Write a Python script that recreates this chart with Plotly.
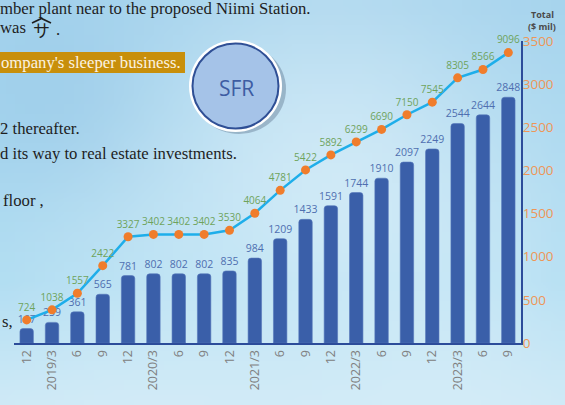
import base64, struct, zlib
import numpy as np
import plotly.graph_objects as go

# ---------------- data ----------------
tick_labels = ["12", "2019/3", "6", "9", "12", "2020/3", "6", "9", "12", "2021/3",
               "6", "9", "12", "2022/3", "6", "9", "12", "2023/3", "6", "9"]
bar_values = [167, 239, 361, 565, 781, 802, 802, 802, 835, 984,
              1209, 1433, 1591, 1744, 1910, 2097, 2249, 2544, 2644, 2848]
total_values = [724, 1038, 1557, 2422, 3327, 3402, 3402, 3402, 3530, 4064,
                4781, 5422, 5892, 6299, 6690, 7150, 7545, 8305, 8566, 9096]
axis_ticks = [0, 500, 1000, 1500, 2000, 2500, 3000, 3500]
positions = list(range(len(tick_labels)))

W, H = 565, 405
L, R, T, B = 14, 521, 41, 343
PW, PH = R - L, B - T


def px(x):
    return (x - L) / PW


def py(y):
    return (B - y) / PH


# ---------------- soft background (generated gradient image) ----------------
def make_bg():
    w, h = 57, 41
    yy, xx = np.mgrid[0:h, 0:w].astype(float)
    X = xx / (w - 1) * W
    Y = yy / (h - 1) * H
    top = np.array([164, 211, 237.0])
    mid = np.array([168, 218, 241.0])
    bot = np.array([202, 232, 246.0])
    t = Y / H
    col = np.where((t < 0.7)[..., None],
                   top + (mid - top) * (t / 0.7)[..., None],
                   mid + (bot - mid) * ((t - 0.7) / 0.3)[..., None])
    for cx, cy, r, a in [(330, 165, 130, 26), (470, 300, 110, 14), (120, 300, 120, 12)]:
        d = np.exp(-((X - cx) ** 2 + (Y - cy) ** 2) / (2 * r * r))
        col = col + (np.array([255, 255, 255.0]) - col) * (a / 100.0) * d[..., None] * 1.6
    d = np.exp(-((X - 60) ** 2 + (Y - 110) ** 2) / (2 * 70 ** 2))
    col = col - np.array([10, 8, 4.0]) * d[..., None]
    img = np.clip(col, 0, 255).astype(np.uint8)
    raw = b"".join(b"\x00" + img[i].tobytes() for i in range(h))

    def chunk(tag, data):
        c = struct.pack(">I", len(data)) + tag + data
        return c + struct.pack(">I", zlib.crc32(tag + data) & 0xFFFFFFFF)

    png = (b"\x89PNG\r\n\x1a\n" + chunk(b"IHDR", struct.pack(">IIBBBBB", w, h, 8, 2, 0, 0, 0))
           + chunk(b"IDAT", zlib.compress(raw, 9)) + chunk(b"IEND", b""))
    return "data:image/png;base64," + base64.b64encode(png).decode()


fig = go.Figure()

fig.add_trace(go.Bar(
    x=positions, y=bar_values, width=0.53,
    marker=dict(color="#3a5fa9", line=dict(color="#5577bb", width=0.6)),
    text=[str(v) for v in bar_values], textposition="outside", constraintext="none",
    textfont=dict(family="Open Sans", size=10.5, color="#4f6fb0"),
    cliponaxis=False, yaxis="y", hoverinfo="skip",
))

fig.add_trace(go.Scatter(
    x=positions, y=total_values, mode="lines+markers+text",
    line=dict(color="#1eaeea", width=2.5),
    marker=dict(color="#f07d2c", size=9),
    text=[str(v) for v in total_values], textposition="top center",
    textfont=dict(family="Open Sans", size=10, color="#6ea35c"),
    cliponaxis=False, yaxis="y2", hoverinfo="skip",
))

serif = "Liberation Serif"
ann = []
txt_color = "#1e1e1e"
FS = 16.7


def add_text(x, y, s, size=FS, color=txt_color, family=serif, xanchor="left"):
    ann.append(dict(x=px(x), y=py(y), xref="paper", yref="paper", text=s, showarrow=False,
                    xanchor=xanchor, yanchor="middle", font=dict(family=family, size=size, color=color)))


add_text(-2, 8, "mber plant near to the proposed Niimi Station.")
add_text(-2, 28, "was")
add_text(41, 30, "サ", size=17, family="Noto Sans CJK JP", xanchor="center")
add_text(54, 29, ".")
add_text(-1, 62, "ompany's sleeper business.", color="#fbf3e2")
add_text(-2, 128, "2 thereafter.")
add_text(-2, 153, "d its way to real estate investments.")
add_text(1, 200, "floor ,")
add_text(0, 321, "s,")

# SFR badge
add_text(236, 88, "SFR", size=21, color="#3d5ca3", family="Open Sans", xanchor="center")

# axis header
ann.append(dict(x=px(542), y=py(14), xref="paper", yref="paper", text="<b>Total</b>", showarrow=False,
                xanchor="center", yanchor="middle", font=dict(family="Open Sans", size=9, color="#4a4a4a")))
ann.append(dict(x=px(542), y=py(26), xref="paper", yref="paper", text="<b>($ mil)</b>", showarrow=False,
                xanchor="center", yanchor="middle", font=dict(family="Open Sans", size=9, color="#4a4a4a")))

shapes = [
    dict(type="rect", xref="paper", yref="paper", x0=px(-2), x1=px(185), y0=py(52), y1=py(73),
         fillcolor="#c88f0b", line=dict(width=0), layer="below"),
    dict(type="path", xref="paper", yref="paper",
         path="M {:.5f},{:.5f} L {:.5f},{:.5f} L {:.5f},{:.5f}".format(px(32), py(23), px(41.5), py(18.5), px(51), py(23)),
         line=dict(color="#1e1e1e", width=1.6), layer="above"),
    dict(type="circle", xref="paper", yref="paper", x0=px(192), x1=px(286), y0=py(134), y1=py(44),
         fillcolor="rgba(40,60,90,0.28)", line=dict(width=0), layer="above"),
    dict(type="circle", xref="paper", yref="paper", x0=px(189), x1=px(282), y0=py(132), y1=py(40),
         fillcolor="#ffffff", line=dict(width=0), layer="above"),
    dict(type="circle", xref="paper", yref="paper", x0=px(192.5), x1=px(278.5), y0=py(128.5), y1=py(43.5),
         fillcolor="#a5c3e8", line=dict(color="#2f4f95", width=2), layer="above"),
]

fig.update_layout(
    width=W, height=H,
    margin=dict(l=L, r=W - R, t=T, b=H - B),
    paper_bgcolor="#b6dcf0", plot_bgcolor="rgba(0,0,0,0)",
    showlegend=False, barcornerradius=3,
    annotations=ann, shapes=shapes,
    images=[dict(source=make_bg(), xref="paper", yref="paper", x=px(0), y=py(0),
                 sizex=W / PW, sizey=H / PH, xanchor="left", yanchor="top",
                 sizing="stretch", layer="below")],
    xaxis=dict(range=[-0.5, len(positions) - 0.5], tickmode="array", tickvals=positions,
               ticktext=tick_labels, tickangle=-90, showgrid=False, zeroline=False,
               showline=True, linecolor="#2c4c9a", linewidth=2, ticks="",
               tickfont=dict(family="Open Sans", size=12.5, color="#808080")),
    yaxis=dict(range=[0, 3500], side="right", tickmode="array", tickvals=axis_ticks,
               showgrid=False, zeroline=False, showline=True, linecolor="#2c4c9a", linewidth=2,
               ticks="", ticklabelstandoff=-3,
               tickfont=dict(family="Open Sans", size=13.5, color="#ee9657")),
    yaxis2=dict(range=[0, 9460], overlaying="y", visible=False, showgrid=False, zeroline=False),
)

fig.write_html("out.html", config={"displayModeBar": False, "staticPlot": True},
               post_script="document.body.style.margin='0';document.body.style.overflow='hidden';")
